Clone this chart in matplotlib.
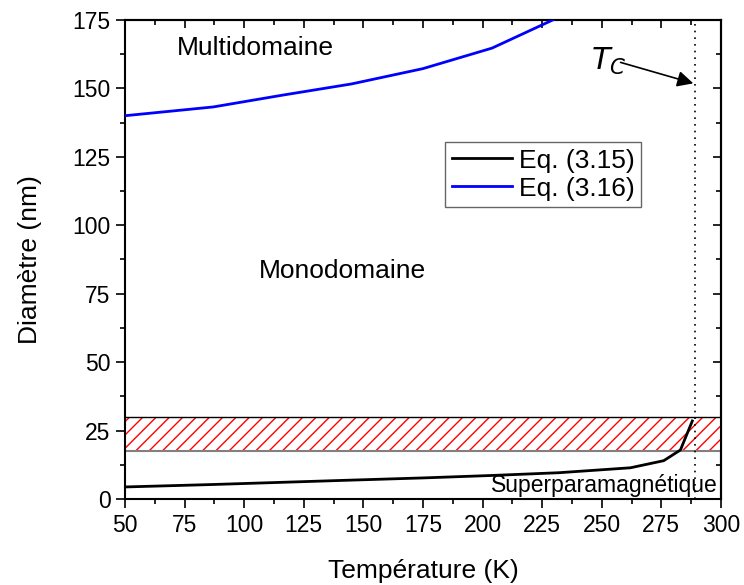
import matplotlib
matplotlib.use("Agg")
import matplotlib.pyplot as plt
from matplotlib.ticker import MultipleLocator

# drawn at 80 dpi so the hatch spacing matches; sizes below are scaled by S
DPI = 80
S = 100 / DPI

plt.rcParams['font.family'] = ['Liberation Sans', 'DejaVu Sans']
plt.rcParams['hatch.color'] = 'red'
plt.rcParams['hatch.linewidth'] = 1.0 * S

# temperatures (K) and critical diameters (nm)
temp = [50, 87, 116, 145, 175, 204, 232, 262, 276, 283, 288]
d_sp = [4.4, 5.3, 6.1, 6.9, 7.7, 8.6, 9.6, 11.4, 14.0, 17.9, 28.5]
temp_md = [50, 87, 116, 145, 175, 204, 232, 262]
d_md = [140.0, 143.2, 147.5, 151.6, 157.2, 164.7, 176.0, 192.0]

band = (17.7, 30.0)
t_curie = 289.3

fig = plt.figure(figsize=(744 / DPI, 585 / DPI), dpi=DPI)
ax = fig.add_axes([0.168, 0.147, 0.801, 0.819])

ax.axhspan(band[0], band[1], facecolor='white', hatch='//', edgecolor='red', linewidth=0, zorder=1)
ax.axhline(band[1], color='black', lw=1 * S, zorder=2)
ax.axhline(band[0], color='gray', lw=1.5 * S, zorder=2)

ax.plot(temp, d_sp, color='black', lw=2 * S, label='Eq. (3.15)', zorder=3)
ax.plot(temp_md, d_md, color='blue', lw=2 * S, label='Eq. (3.16)', zorder=3)
ax.axvline(t_curie, color='black', ls=(0, (1, 3)), lw=1.2 * S, zorder=2)

ax.annotate('', xy=(t_curie, 151.6), xytext=(257, 159.7),
            arrowprops=dict(arrowstyle='-|>', color='black', lw=1.2 * S, mutation_scale=24 * S))
ax.text(245.5, 160, r'$\mathit{T}_{\mathit{C}}$', fontsize=22 * S, ha='left', va='center')

ax.text(71.8, 164.8, 'Multidomaine', fontsize=19 * S, ha='left', va='center')
ax.text(141.2, 83.3, 'Monodomaine', fontsize=19 * S, ha='center', va='center')
ax.text(298.7, 5.1, 'Superparamagnétique', fontsize=16.5 * S, ha='right', va='center')

ax.set_xlim(50, 300)
ax.set_ylim(0, 175)
ax.xaxis.set_major_locator(MultipleLocator(25))
ax.xaxis.set_minor_locator(MultipleLocator(12.5))
ax.yaxis.set_major_locator(MultipleLocator(25))
ax.yaxis.set_minor_locator(MultipleLocator(12.5))
ax.tick_params(which='both', direction='out', labelsize=16.5 * S, top=False, right=False,
               width=1.2 * S, pad=4 * S)
ax.tick_params(which='major', length=6.5 * S)
ax.tick_params(which='minor', length=3.5 * S)
for sp in ax.spines.values():
    sp.set_linewidth(1.5 * S)

sec_x = ax.secondary_xaxis('top')
sec_x.xaxis.set_major_locator(MultipleLocator(25))
sec_x.xaxis.set_minor_locator(MultipleLocator(12.5))
sec_x.tick_params(which='both', direction='in', width=1.2 * S, labeltop=False)
sec_x.tick_params(which='major', length=6 * S)
sec_x.tick_params(which='minor', length=3.5 * S)
sec_y = ax.secondary_yaxis('right')
sec_y.yaxis.set_major_locator(MultipleLocator(25))
sec_y.yaxis.set_minor_locator(MultipleLocator(12.5))
sec_y.tick_params(which='both', direction='in', width=1.2 * S, labelright=False)
sec_y.tick_params(which='major', length=6 * S)
sec_y.tick_params(which='minor', length=3.5 * S)
for sec in (sec_x, sec_y):
    for sp in sec.spines.values():
        sp.set_linewidth(1.5 * S)

ax.set_xlabel('Température (K)', fontsize=19 * S, labelpad=16 * S)
ax.set_ylabel('Diamètre (nm)', fontsize=19 * S, labelpad=22 * S)

leg = ax.legend(loc='upper left', bbox_to_anchor=(0.537, 0.745), borderaxespad=0,
                fontsize=19 * S, frameon=True, fancybox=False, handlelength=2.3,
                borderpad=0.25, labelspacing=0.15, handletextpad=0.25)
leg.get_frame().set_edgecolor('#404040')
leg.get_frame().set_linewidth(1 * S)

fig.savefig('out.png', dpi=DPI)
